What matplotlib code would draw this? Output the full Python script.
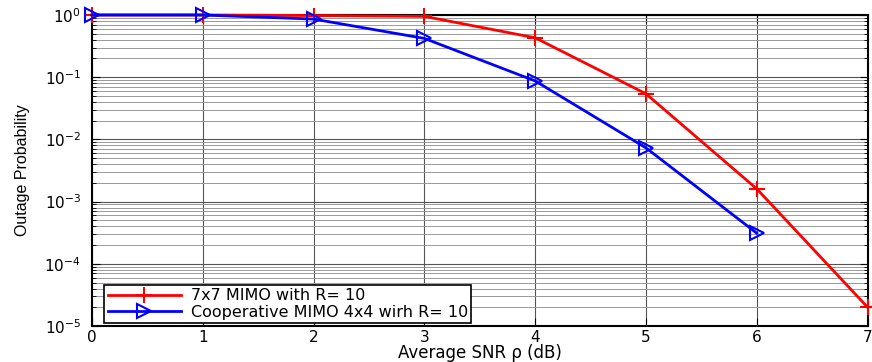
import matplotlib
matplotlib.use("Agg")
import matplotlib.pyplot as plt
import numpy as np

plt.rcParams['font.family'] = ['DejaVu Sans']
plt.rcParams['mathtext.fontset'] = 'dejavusans'

snr = [0, 1, 2, 3, 4, 5, 6, 7]
red_vals = [1.0, 1.0, 0.98, 0.95, 0.43, 0.054, 0.0016, 2.0e-5]
snr_blue = [0, 1, 2, 3, 4, 5, 6]
blue_vals = [1.0, 1.0, 0.86, 0.42, 0.087, 0.0073, 3.1e-4]
red_label = '7x7 MIMO with R= 10'
blue_label = 'Cooperative MIMO 4x4 wirh R= 10'

fig = plt.figure(figsize=(8.72, 3.62), dpi=100)
ax = fig.add_axes([0.1055, 0.0994, 0.8895, 0.8592])

ax.semilogy(snr, red_vals, color='red', lw=2, marker='+', ms=11, mew=1.5,
            label=red_label, clip_on=False, zorder=5)
ax.semilogy(snr_blue, blue_vals, color='blue', lw=2, marker='>', ms=10, mew=1.5,
            mfc='none', label=blue_label, clip_on=False, zorder=6)

ax.set_xlim(0, 7)
ax.set_ylim(1e-5, 1)
ax.set_xticks(range(0, 8))
ax.set_yticks([1e-5, 1e-4, 1e-3, 1e-2, 1e-1, 1])
ax.grid(True, which='major', color='#555555', lw=0.8)
ax.grid(True, which='minor', axis='y', color='#999999', lw=0.7)
ax.tick_params(which='both', direction='in', top=True, right=True, labelsize=11)
ax.tick_params(which='major', length=6)
ax.tick_params(axis='y', which='major', pad=8)
ax.tick_params(axis='x', which='major', pad=3)
ax.tick_params(which='minor', length=3)
for s in ax.spines.values():
    s.set_linewidth(1.5)

ax.set_xlabel('Average SNR ρ (dB)', fontsize=12, labelpad=-1)
ax.set_ylabel('Outage Probability', fontsize=11.5, labelpad=10, family='Liberation Sans')

leg = ax.legend(loc='lower left', fontsize=11.5, fancybox=False, framealpha=1,
                edgecolor='black', bbox_to_anchor=(0.016, 0.01), borderaxespad=0,
                handlelength=4.6, handletextpad=0.6,
                borderpad=0.2, labelspacing=0.1)
leg.get_frame().set_linewidth(1.2)

fig.savefig('out.png', dpi=100)
